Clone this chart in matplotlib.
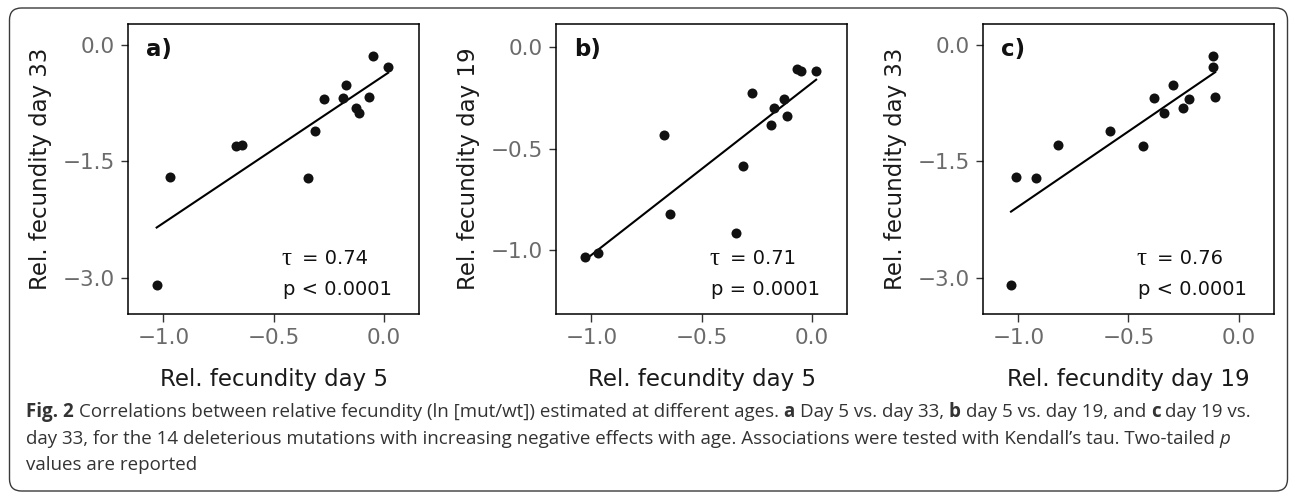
import matplotlib
matplotlib.use('Agg')
import matplotlib.pyplot as plt
import numpy as np
from matplotlib.patches import FancyBboxPatch
from matplotlib.transforms import offset_copy

# relative fecundity (ln [mut/wt]) of the 14 mutations at three ages
day5 = [0.02, -0.05, -0.065, -0.11, -0.125, -0.17, -0.185, -0.27, -0.313, -0.343, -0.645, -0.67, -0.968, -1.03]
day19 = [-0.118, -0.118, -0.107, -0.337, -0.255, -0.300, -0.383, -0.225, -0.585, -0.918, -0.822, -0.434, -1.012, -1.033]
day33 = [-0.29, -0.14, -0.677, -0.878, -0.814, -0.514, -0.685, -0.70, -1.105, -1.713, -1.294, -1.307, -1.705, -3.098]

panel_tags = ['a)', 'b)', 'c)']
x_labels = ['Rel. fecundity day 5', 'Rel. fecundity day 5', 'Rel. fecundity day 19']
y_labels = ['Rel. fecundity day 33', 'Rel. fecundity day 19', 'Rel. fecundity day 33']
taus = ['0.74', '0.71', '0.76']
p_texts = ['p < 0.0001', 'p = 0.0001', 'p < 0.0001']
x_ticks = [-1.0, -0.5, 0.0]
y_ticks = [[0.0, -1.5, -3.0], [0.0, -0.5, -1.0], [0.0, -1.5, -3.0]]

W, H = 1290, 492
fig = plt.figure(figsize=(W / 100, H / 100), dpi=100)
plt.rcParams['font.family'] = 'DejaVu Sans'

pairs = [(day5, day33), (day5, day19), (day19, day33)]
lefts = [128, 556, 983]
ylims = [(-3.47, 0.27), (-1.315, 0.115), (-3.47, 0.27)]
tick_col = '#6b6b6b'

for i, (xs, ys) in enumerate(pairs):
    ax = fig.add_axes([lefts[i] / W, (H - 314) / H, 291 / W, 290 / H])
    xs = np.array(xs)
    ys = np.array(ys)
    ax.scatter(xs, ys, s=52, color='#111111', zorder=3, linewidths=0)
    k, b = np.polyfit(xs, ys, 1)
    xl = np.array([xs.min(), xs.max()])
    ax.plot(xl, k * xl + b, color='black', lw=1.5, zorder=2)

    ax.set_xlim(-1.16, 0.16)
    ax.set_ylim(*ylims[i])
    ax.set_xticks(x_ticks)
    ax.set_yticks(y_ticks[i])
    ax.tick_params(length=5.4, width=1.0, color='#333333', labelcolor=tick_col,
                   labelsize=15.5)
    ax.tick_params(axis='x', pad=5)
    ax.tick_params(axis='y', pad=4)
    for sp in ax.spines.values():
        sp.set_linewidth(1.1)
        sp.set_color('black')

    ax.set_xlabel(x_labels[i], fontsize=16.5, color='#1a1a1a', va='center')
    ax.xaxis.set_label_coords(0.5, -0.225)
    ax.set_ylabel(y_labels[i], fontsize=16.5, color='#1a1a1a', va='center')
    ax.yaxis.set_label_coords(-0.302, 0.5)

    ax.text(0.062, 0.95, panel_tags[i], transform=ax.transAxes, fontsize=16.5,
            fontweight='bold', va='top', ha='left', color='#111111')
    ax.text(0.526, 0.19, 'τ', transform=ax.transAxes, fontsize=18,
            family='Liberation Serif', va='center', ha='left', color='#111111')
    tr = offset_copy(ax.transAxes, fig=fig, x=15.2, y=0, units='points')
    ax.text(0.526, 0.193, '= ' + taus[i], transform=tr, fontsize=14,
            va='center', ha='left', color='#111111')
    ax.text(0.532, 0.086, p_texts[i], transform=ax.transAxes, fontsize=14,
            va='center', ha='left', color='#111111')

# outer frame
frame = FancyBboxPatch((0.095, 0.01), 12.78, 4.83,
                       boxstyle='round,pad=0,rounding_size=0.12',
                       transform=fig.dpi_scale_trans, fill=False,
                       edgecolor='#3a3a3a', lw=1.0)
fig.patches.append(frame)

# caption, drawn piece by piece for the bold / italic parts
cap_font = 'Open Sans'
cap_size = 13.5
cap_col = '#333333'
renderer = fig.canvas.get_renderer()

t1 = fig.text(0, 0, 'a a', family=cap_font, fontsize=cap_size)
t2 = fig.text(0, 0, 'aa', family=cap_font, fontsize=cap_size)
space_w = t1.get_window_extent(renderer).width - t2.get_window_extent(renderer).width
t1.remove()
t2.remove()

caption = [
    [('Fig. 2', 'bold', 'normal'),
     ('Correlations between relative fecundity (ln [mut/wt]) estimated at different ages.', 'normal', 'normal'),
     ('a', 'bold', 'normal'), ('Day 5 vs. day 33,', 'normal', 'normal'),
     ('b', 'bold', 'normal'), ('day 5 vs. day 19, and', 'normal', 'normal'),
     ('c', 'bold', 'normal'), ('day 19 vs.', 'normal', 'normal')],
    [('day 33, for the 14 deleterious mutations with increasing negative effects with age. '
      'Associations were tested with Kendall\u2019s tau. Two-tailed', 'normal', 'normal'),
     ('p', 'normal', 'italic')],
    [('values are reported', 'normal', 'normal')],
]
baselines = [417, 444, 470.5]

for line, yb in zip(caption, baselines):
    x = 26
    for txt, wt, st in line:
        t = fig.text(x / W, 1 - yb / H, txt, family=cap_font, fontsize=cap_size,
                     fontweight=wt, fontstyle=st, color=cap_col, va='baseline', ha='left')
        x += t.get_window_extent(renderer).width + space_w

fig.savefig('out.png', dpi=100, facecolor='white')
